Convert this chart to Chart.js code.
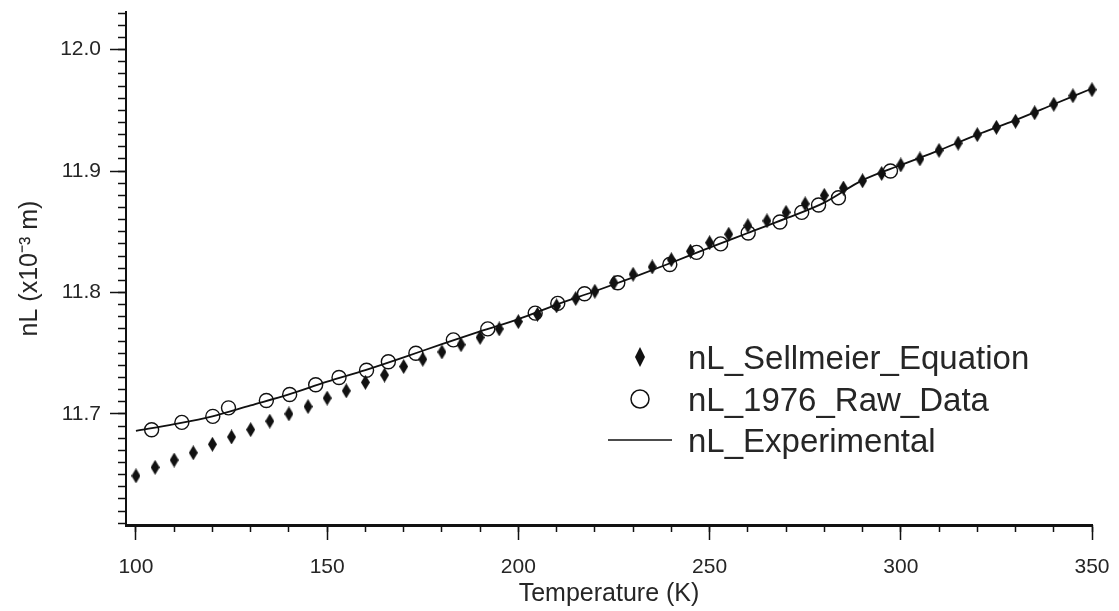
<!DOCTYPE html>
<html>
<head>
<meta charset="utf-8">
<script src="https://cdn.jsdelivr.net/npm/chart.js@4.4.1/dist/chart.umd.min.js"></script>
<style>
  html, body { margin: 0; padding: 0; background: #ffffff; }
  #wrap { position: relative; width: 1119px; height: 611px; }
</style>
</head>
<body>
<div id="wrap"><canvas id="c" width="1119" height="611"></canvas></div>
<script>
// ---------------- data ----------------
const sellmeierT = [100,105,110,115,120,125,130,135,140,145,150,155,160,165,170,175,180,185,190,195,
  200,205,210,215,220,225,230,235,240,245,250,255,260,265,270,275,280,285,290,295,
  300,305,310,315,320,325,330,335,340,345,350];
const sellmeierN = [11.649,11.656,11.662,11.668,11.675,11.681,11.687,11.694,11.700,11.706,
  11.713,11.719,11.726,11.732,11.739,11.745,11.751,11.757,11.763,11.770,
  11.776,11.782,11.789,11.795,11.801,11.808,11.815,11.821,11.827,11.834,
  11.841,11.848,11.855,11.859,11.866,11.873,11.880,11.886,11.892,11.898,
  11.905,11.910,11.917,11.923,11.930,11.936,11.941,11.948,11.955,11.962,11.967];

const rawT = [104.1,112,120.1,124.2,134.1,140.2,147,153.1,160.3,166,173.2,183,192,
  204.4,210.3,217.3,226,239.6,246.6,252.9,260.1,268.4,274.1,278.5,283.7,297.3];
const rawN = [11.687,11.693,11.698,11.705,11.711,11.716,11.724,11.730,11.736,11.743,11.750,11.761,11.770,
  11.783,11.791,11.799,11.808,11.823,11.833,11.840,11.849,11.858,11.866,11.872,11.878,11.900];

const expT = [100,110,120,130,140,150,160,170,180,190,200,210,220,230,240,250,260,270,280,290,300,310,320,330,340,350];
const expN = [11.686,11.6915,11.698,11.707,11.716,11.7265,11.736,11.7465,11.7575,11.768,11.778,11.790,11.801,
  11.8125,11.8245,11.837,11.849,11.861,11.874,11.8925,11.905,11.917,11.930,11.942,11.955,11.968];

const xTickValues = [100,150,200,250,300,350];
const yTickValues = [11.7,11.8,11.9,12.0];
const seriesNames = ['nL_Sellmeier_Equation','nL_1976_Raw_Data','nL_Experimental'];
const xTitle = 'Temperature (K)';
const yTitle = 'nL (x10\u207B\u00B3 m)';

// ---------------- styling helpers ----------------
const FONT = '"Liberation Sans", Arial, Helvetica, sans-serif';
const INK = '#111111';
const TEXT = '#262626';

function makeDiamond(w, h) {
  const cv = document.createElement('canvas');
  cv.width = w; cv.height = h;
  const g = cv.getContext('2d');
  g.fillStyle = INK;
  g.beginPath();
  g.moveTo(w / 2, 0); g.lineTo(w, h / 2); g.lineTo(w / 2, h); g.lineTo(0, h / 2);
  g.closePath(); g.fill();
  return cv;
}
const dataDiamond = makeDiamond(9, 15);
const legendDiamond = makeDiamond(10, 20);

const toXY = (xs, ys) => xs.map((x, i) => ({ x: x, y: ys[i] }));

const insideLegend = {
  id: 'insideLegend',
  afterDatasetsDraw(chart) {
    const ctx = chart.ctx;
    ctx.save();
    const mx = 640, tx = 688;
    const rows = [357, 399, 440];
    ctx.drawImage(legendDiamond, mx - legendDiamond.width / 2, rows[0] - legendDiamond.height / 2);
    ctx.strokeStyle = INK; ctx.lineWidth = 1.5;
    ctx.beginPath(); ctx.arc(mx, rows[1], 9, 0, Math.PI * 2); ctx.stroke();
    ctx.beginPath(); ctx.moveTo(608, rows[2]); ctx.lineTo(672, rows[2]); ctx.stroke();
    ctx.fillStyle = TEXT;
    ctx.font = '33px ' + FONT;
    ctx.textBaseline = 'alphabetic';
    ctx.textAlign = 'left';
    seriesNames.forEach((n, i) => ctx.fillText(n, tx, rows[i] + 12));
    ctx.restore();
  }
};

function zeroPad(scale) {
  scale.paddingLeft = 0; scale.paddingRight = 0; scale.paddingTop = 0; scale.paddingBottom = 0;
}

const X_MIN = 97.4, X_MAX = 350, Y_MIN = 11.6085, Y_MAX = 12.031;

new Chart(document.getElementById('c'), {
  type: 'scatter',
  data: {
    datasets: [
      {
        label: seriesNames[0],
        data: toXY(sellmeierT, sellmeierN),
        pointStyle: dataDiamond,
        pointRadius: 7,
        clip: false,
        order: 1
      },
      {
        label: seriesNames[1],
        data: toXY(rawT, rawN),
        pointStyle: 'circle',
        pointRadius: 7,
        borderColor: INK,
        borderWidth: 1.4,
        backgroundColor: 'rgba(0,0,0,0)',
        clip: false,
        order: 0
      },
      {
        label: seriesNames[2],
        data: toXY(expT, expN),
        showLine: true,
        pointRadius: 0,
        borderColor: INK,
        borderWidth: 1.8,
        cubicInterpolationMode: 'monotone',
        clip: false,
        order: 2
      }
    ]
  },
  options: {
    responsive: false,
    animation: false,
    devicePixelRatio: 1,
    layout: { padding: { left: 0, top: 12, right: 27, bottom: 0 } },
    plugins: { legend: { display: false }, tooltip: { enabled: false } },
    scales: {
      x: {
        type: 'linear', axis: 'x', position: 'bottom', weight: 1,
        min: X_MIN, max: X_MAX,
        afterBuildTicks: (s) => { s.ticks = xTickValues.map(v => ({ value: v })); },
        afterFit: (s) => { s.height = 86; zeroPad(s); },
        ticks: { color: TEXT, font: { family: FONT, size: 21 }, padding: 15, maxRotation: 0,
                 callback: (v) => String(v) },
        grid: { drawOnChartArea: false, drawTicks: true, tickLength: 15, tickWidth: 1.5, tickColor: INK },
        border: { display: true, width: 3, color: INK },
        title: { display: true, text: xTitle, color: TEXT, font: { family: FONT, size: 25 },
                 padding: { top: 0, bottom: 2 } }
      },
      xMinor: {
        type: 'linear', axis: 'x', position: 'bottom', weight: 0,
        min: X_MIN, max: X_MAX,
        ticks: { display: false, stepSize: 10, includeBounds: false },
        afterFit: (s) => { s.height = 0; zeroPad(s); },
        grid: { drawOnChartArea: false, drawTicks: true, tickLength: 7, tickWidth: 1.5, tickColor: INK },
        border: { display: false }
      },
      y: {
        type: 'linear', axis: 'y', position: 'left', weight: 1,
        min: Y_MIN, max: Y_MAX,
        afterBuildTicks: (s) => { s.ticks = yTickValues.map(v => ({ value: v })); },
        afterFit: (s) => { s.width = 126; zeroPad(s); },
        ticks: { color: TEXT, font: { family: FONT, size: 21 }, padding: 9,
                 callback: (v) => Number(v).toFixed(1) },
        grid: { drawOnChartArea: false, drawTicks: true, tickLength: 16, tickWidth: 1.5, tickColor: INK },
        border: { display: true, width: 2, color: INK },
        title: { display: true, text: yTitle, color: TEXT, font: { family: FONT, size: 25 },
                 padding: { top: 15, bottom: 0 } }
      },
      yMinor: {
        type: 'linear', axis: 'y', position: 'left', weight: 0,
        min: Y_MIN, max: Y_MAX,
        ticks: { display: false, stepSize: 0.01, includeBounds: false },
        afterFit: (s) => { s.width = 0; zeroPad(s); },
        grid: { drawOnChartArea: false, drawTicks: true, tickLength: 8, tickWidth: 1.5, tickColor: INK },
        border: { display: false }
      }
    }
  },
  plugins: [insideLegend]
});
</script>
</body>
</html>
